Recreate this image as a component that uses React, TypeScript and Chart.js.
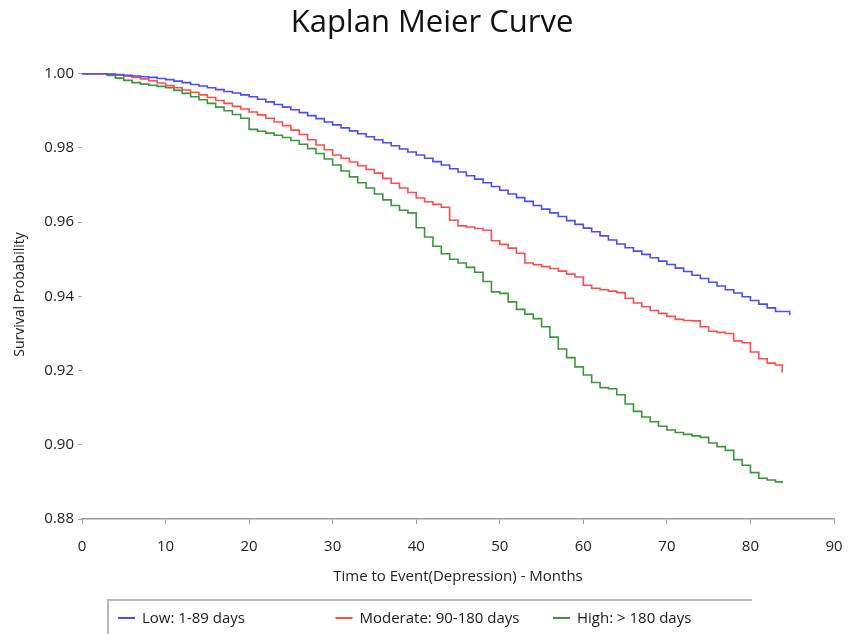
import React, { useEffect, useRef } from "react";
import { Chart, registerables } from "chart.js";

Chart.register(...registerables);

// Time points (months)
const months = [
  0, 1, 2, 3, 4, 5, 6, 7, 8, 9, 10, 11, 12, 13, 14, 15, 16, 17, 18, 19, 20,
  21, 22, 23, 24, 25, 26, 27, 28, 29, 30, 31, 32, 33, 34, 35, 36, 37, 38, 39, 40,
  41, 42, 43, 44, 45, 46, 47, 48, 49, 50, 51, 52, 53, 54, 55, 56, 57, 58, 59, 60,
  61, 62, 63, 64, 65, 66, 67, 68, 69, 70, 71, 72, 73, 74, 75, 76, 77, 78, 79, 80,
  81, 82, 83, 84,
];

// Last observed time of each group
const lowEnd = 84.7;
const moderateEnd = 83.8;
const highEnd = 83.8;

const lowSurvival = [
  1.0, 1.0, 1.0, 0.9999, 0.9998, 0.9996, 0.9994, 0.9992, 0.999, 0.9987, 0.9984,
  0.998, 0.9976, 0.9971, 0.9967, 0.9962, 0.9957, 0.9952, 0.9948, 0.9943, 0.9938,
  0.9931, 0.9924, 0.9917, 0.991, 0.9903, 0.9895, 0.9887, 0.9879, 0.987, 0.9862,
  0.9854, 0.9846, 0.9838, 0.983, 0.9822, 0.9814, 0.9806, 0.9797, 0.9789, 0.9781,
  0.9772, 0.9763, 0.9754, 0.9744, 0.9735, 0.9725, 0.9716, 0.9706, 0.9696, 0.9686,
  0.9676, 0.9666, 0.9656, 0.9645, 0.9635, 0.9625, 0.9615, 0.9604, 0.9594, 0.9584,
  0.9574, 0.9563, 0.9552, 0.9541, 0.9531, 0.9522, 0.9513, 0.9504, 0.9495, 0.9486,
  0.9476, 0.9467, 0.9457, 0.9448, 0.9438, 0.9428, 0.9418, 0.9409, 0.9399, 0.9389,
  0.9379, 0.9369, 0.9359, 0.9349,
];

const moderateSurvival = [
  1.0, 1.0, 1.0, 0.9998, 0.9996, 0.9993, 0.999, 0.9986, 0.9981, 0.9975, 0.9968,
  0.9962, 0.9956, 0.995, 0.9943, 0.9936, 0.9928, 0.992, 0.9912, 0.9905, 0.9897,
  0.9889, 0.988, 0.987, 0.986, 0.9848, 0.9836, 0.9822, 0.9808, 0.9795, 0.9781,
  0.9772, 0.9762, 0.9752, 0.9742, 0.9732, 0.9718, 0.9705, 0.9692, 0.968, 0.9665,
  0.9655, 0.9648, 0.964, 0.9605, 0.959, 0.9587, 0.9583, 0.9578, 0.955, 0.954,
  0.953, 0.9516, 0.949, 0.9485, 0.948, 0.9475, 0.9468, 0.946, 0.9452, 0.943,
  0.9422, 0.9418, 0.9414, 0.941, 0.9395, 0.9382, 0.9372, 0.9362, 0.9354, 0.9346,
  0.9338, 0.9335, 0.9334, 0.9318, 0.9306, 0.9303, 0.93, 0.928, 0.9275, 0.925,
  0.9232, 0.922, 0.9215, 0.9195,
];

const highSurvival = [
  1.0, 1.0, 1.0, 0.9995, 0.9988, 0.9982, 0.9976, 0.9972, 0.9969, 0.9966, 0.9962,
  0.9955, 0.9947, 0.9938, 0.993, 0.992, 0.991, 0.99, 0.989, 0.988, 0.985,
  0.9845, 0.984, 0.9834, 0.9828, 0.982, 0.981, 0.9798, 0.9785, 0.977, 0.9754,
  0.9738, 0.9722, 0.9706, 0.9692, 0.9676, 0.966, 0.9645, 0.9632, 0.9625, 0.9585,
  0.956, 0.9535, 0.9515, 0.95, 0.949, 0.9478, 0.9465, 0.944, 0.9412, 0.9408,
  0.9385, 0.9365, 0.9352, 0.934, 0.9318, 0.929, 0.9258, 0.9235, 0.921, 0.9188,
  0.9168, 0.9154, 0.9151, 0.9135, 0.911, 0.909, 0.9075, 0.9062, 0.905, 0.904,
  0.9033, 0.9028, 0.9024, 0.902, 0.9005, 0.8995, 0.8985, 0.896, 0.8945, 0.8925,
  0.891, 0.8905, 0.89, 0.8897,
];

const chartTitle = "Kaplan Meier Curve";
const seriesLabels = ["Low: 1-89 days", "Moderate: 90-180 days", "High: > 180 days"];
const seriesColors = ["#4b4bff", "#ff4d4d", "#3c963c"];

const xTicks = [0, 10, 20, 30, 40, 50, 60, 70, 80, 90];
const yTicks = [0.88, 0.9, 0.92, 0.94, 0.96, 0.98, 1.0];

const FONT = "'Open Sans', 'Noto Sans', sans-serif";

function toPoints(values: number[], end: number) {
  const last = values.length - 1;
  return values.map((v, i) => ({ x: i === last ? end : months[i], y: v }));
}

const titlePlugin = {
  id: "kmTitle",
  afterDraw(chart: any) {
    const ctx = chart.ctx as CanvasRenderingContext2D;
    ctx.save();
    ctx.fillStyle = "#111";
    ctx.font = `31px ${FONT}`;
    ctx.textAlign = "center";
    ctx.textBaseline = "middle";
    ctx.fillText(chartTitle, 432, 23);
    ctx.restore();
  },
};

const legendPlugin = {
  id: "kmLegend",
  afterDraw(chart: any) {
    const ctx = chart.ctx as CanvasRenderingContext2D;
    ctx.save();
    ctx.strokeStyle = "#b8b8b8";
    ctx.lineWidth = 2;
    ctx.beginPath();
    ctx.moveTo(108, 640);
    ctx.lineTo(108, 600);
    ctx.lineTo(752, 600);
    ctx.stroke();
    chart.data.datasets.forEach((ds: any, i: number) => {
      const x = 118 + i * 217.5;
      const y = 618;
      ctx.strokeStyle = ds.borderColor;
      ctx.lineWidth = 2;
      ctx.beginPath();
      ctx.moveTo(x, y);
      ctx.lineTo(x + 17, y);
      ctx.stroke();
      ctx.fillStyle = "#1a1a1a";
      ctx.font = `15px ${FONT}`;
      ctx.textBaseline = "middle";
      ctx.textAlign = "left";
      ctx.fillText(ds.label, x + 24, y + 1);
    });
    ctx.restore();
  },
};

export default function App() {
  const ref = useRef<HTMLCanvasElement>(null);

  useEffect(() => {
    if (!ref.current) return;
    const chart = new Chart(ref.current, {
      type: "line",
      data: {
        datasets: [
          { label: seriesLabels[0], data: toPoints(lowSurvival, lowEnd), borderColor: seriesColors[0] },
          { label: seriesLabels[1], data: toPoints(moderateSurvival, moderateEnd), borderColor: seriesColors[1] },
          { label: seriesLabels[2], data: toPoints(highSurvival, highEnd), borderColor: seriesColors[2] },
        ].map((d) => ({
          ...d,
          stepped: true as any,
          borderWidth: 1.6,
          pointRadius: 0,
          fill: false,
          backgroundColor: d.borderColor,
        })),
      },
      options: {
        animation: false,
        responsive: false,
        layout: { padding: { left: 0, right: 16, top: 70, bottom: 34 } },
        plugins: {
          legend: { display: false },
          tooltip: { enabled: false },
          title: { display: false },
        },
        scales: {
          x: {
            type: "linear",
            min: 0,
            max: 90,
            afterBuildTicks: (s: any) => {
              s.ticks = xTicks.map((v) => ({ value: v }));
            },
            afterFit: (s: any) => {
              s.height = 81;
              s.paddingRight = 0;
              s.paddingLeft = 0;
            },
            border: { display: true, color: "#999", width: 1.5 },
            grid: { drawOnChartArea: false, drawTicks: true, tickLength: 5, color: "#999" },
            ticks: {
              font: { family: FONT, size: 15 },
              color: "#222",
              padding: 14,
              maxRotation: 0,
            },
            title: {
              display: true,
              text: "Time to Event(Depression) - Months",
              color: "#222",
              font: { family: FONT, size: 15 },
              padding: { top: 0, bottom: 14 },
            },
          },
          y: {
            type: "linear",
            min: 0.88,
            max: 1.001,
            afterBuildTicks: (s: any) => {
              s.ticks = yTicks.map((v) => ({ value: v }));
            },
            afterFit: (s: any) => {
              s.width = 82;
              s.paddingTop = 0;
              s.paddingBottom = 0;
            },
            border: { display: false },
            grid: { drawOnChartArea: false, drawTicks: true, tickLength: 4, color: "#aaa" },
            ticks: {
              font: { family: FONT, size: 15 },
              color: "#222",
              padding: 4,
              callback: (v: any) => Number(v).toFixed(2),
            },
            title: {
              display: true,
              text: "Survival Probability",
              color: "#222",
              font: { family: FONT, size: 14 },
              padding: { top: 12, bottom: 0 },
            },
          },
        },
      },
      plugins: [titlePlugin, legendPlugin],
    });
    return () => chart.destroy();
  }, []);

  return (
    <div style={{ position: "fixed", left: 0, top: 0, width: 850, height: 634, background: "#fff" }}>
      <canvas ref={ref} width={850} height={634} />
    </div>
  );
}
